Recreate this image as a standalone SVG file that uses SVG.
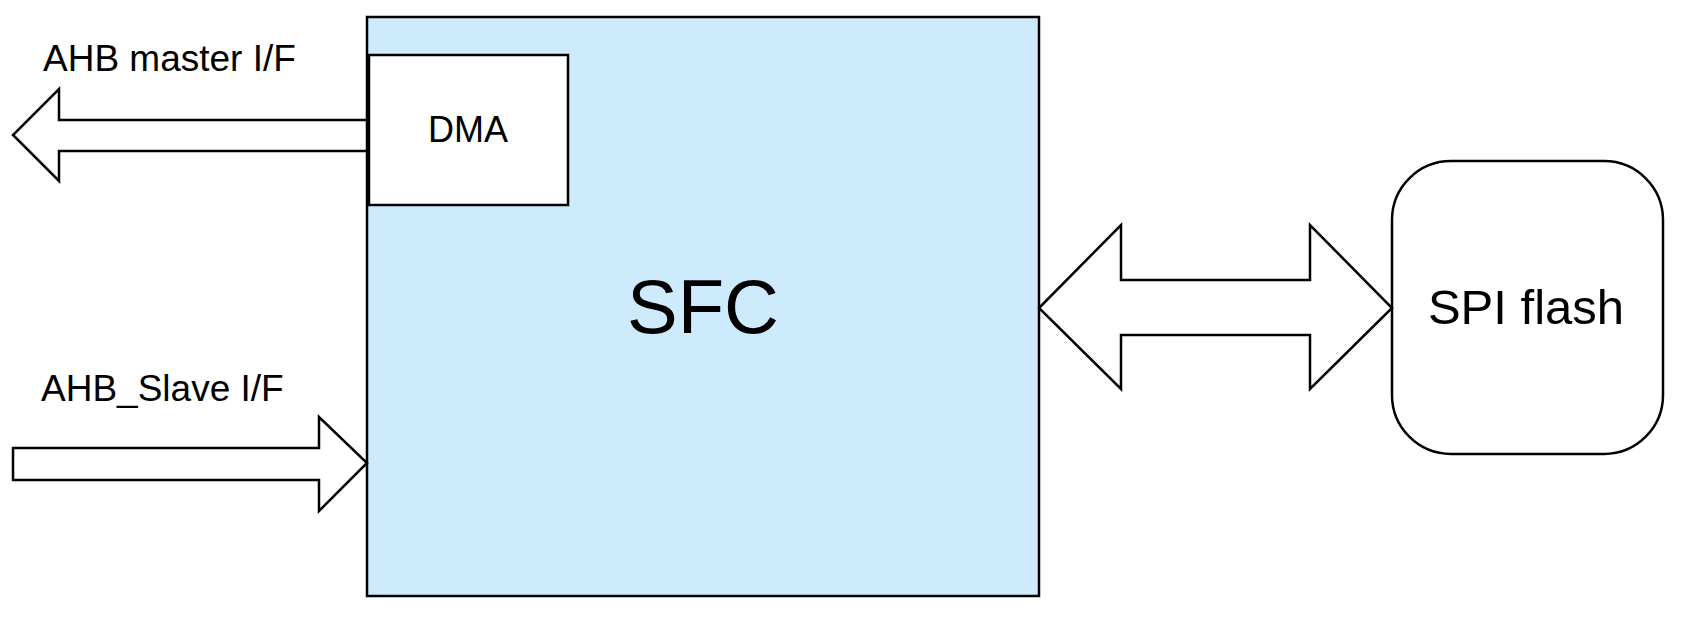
<svg xmlns="http://www.w3.org/2000/svg" width="1685" height="619" viewBox="0 0 1685 619">
<style>
.s{stroke:#000;stroke-width:2.5;fill:#fff;stroke-linejoin:miter}
.t{font-family:"Liberation Sans",Arial,sans-serif;fill:#000}
</style>
<rect width="1685" height="619" fill="#fff"/>
<g id="sfc">
<rect x="367" y="17" width="672" height="579" fill="#cdebfd" stroke="#000" stroke-width="2.5"/>
<text class="t" x="703" y="333" font-size="76" text-anchor="middle">SFC</text>
</g>
<g id="dma">
<rect class="s" x="369" y="55" width="199" height="150"/>
<text class="t" x="468" y="142" font-size="36" text-anchor="middle">DMA</text>
</g>
<g id="spi">
<rect class="s" x="1392" y="161" width="271" height="293" rx="59" ry="59"/>
<text class="t" x="1526" y="324" font-size="49" text-anchor="middle">SPI flash</text>
</g>
<g id="labels">
<text class="t" x="43" y="71" font-size="37">AHB master I/F</text>
<text class="t" x="41" y="401" font-size="37">AHB_Slave I/F</text>
</g>
<g id="connectors">
<polygon class="s" points="367,120 59,120 59,89 13,135 59,181 59,151 367,151"/>
<polygon class="s" points="13,448 319,448 319,417 367,463 319,511 319,480 13,480"/>
<polygon class="s" points="1039,308 1121,225 1121,280 1310,280 1310,225 1392,308 1310,389 1310,335 1121,335 1121,389"/>
</g>
</svg>
